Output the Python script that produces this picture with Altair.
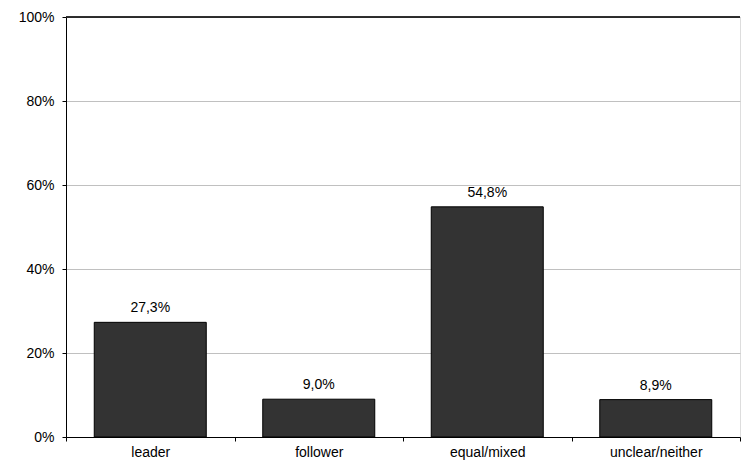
import altair as alt
import pandas as pd

categories = ["leader", "follower", "equal/mixed", "unclear/neither"]
values = [27.3, 9.0, 54.8, 8.9]
y_ticks = [0, 20, 40, 60, 80, 100]

df = pd.DataFrame({
    "cat": categories,
    "val": values,
    "label": [f"{v:.1f}%".replace(".", ",") for v in values],
})

FONT = "Liberation Sans"

x = alt.X("cat:N", sort=categories, title=None,
          scale=alt.Scale(paddingInner=0, paddingOuter=0),
          axis=alt.Axis(labelAngle=0, tickBand="extent", tickSize=4, tickColor="black",
                        domainColor="black", labelFontSize=14, labelFont=FONT,
                        labelColor="black", labelPadding=4, grid=False))
y = alt.Y("val:Q", title=None,
          scale=alt.Scale(domain=[0, 100], nice=False),
          axis=alt.Axis(values=y_ticks, labelExpr="datum.value + '%'", tickSize=4,
                        tickColor="black", domainColor="black", labelFontSize=14,
                        labelFont=FONT, labelColor="black", labelPadding=8,
                        gridColor="#c0c0c0", gridWidth=1))

bars = alt.Chart(df).mark_bar(size=112, color="#333333", stroke="black", strokeWidth=1).encode(x=x, y=y)
text = alt.Chart(df).mark_text(dy=-10, baseline="alphabetic", fontSize=14, font=FONT, color="black").encode(
    x=alt.X("cat:N", sort=categories), y="val:Q", text="label:N")
top_rule = alt.Chart(df).mark_rule(color="#222222", strokeWidth=1).encode(y=alt.datum(100))

chart = (bars + text + top_rule).properties(
    width=674, height=420,
    autosize=alt.AutoSizeParams(type="none"),
    padding={"left": 58, "top": 9, "right": 1, "bottom": 24},
).configure_view(stroke="#222222", strokeWidth=1).configure(background="white")

chart.save("out.html", embed_options={"renderer": "svg", "actions": False})
